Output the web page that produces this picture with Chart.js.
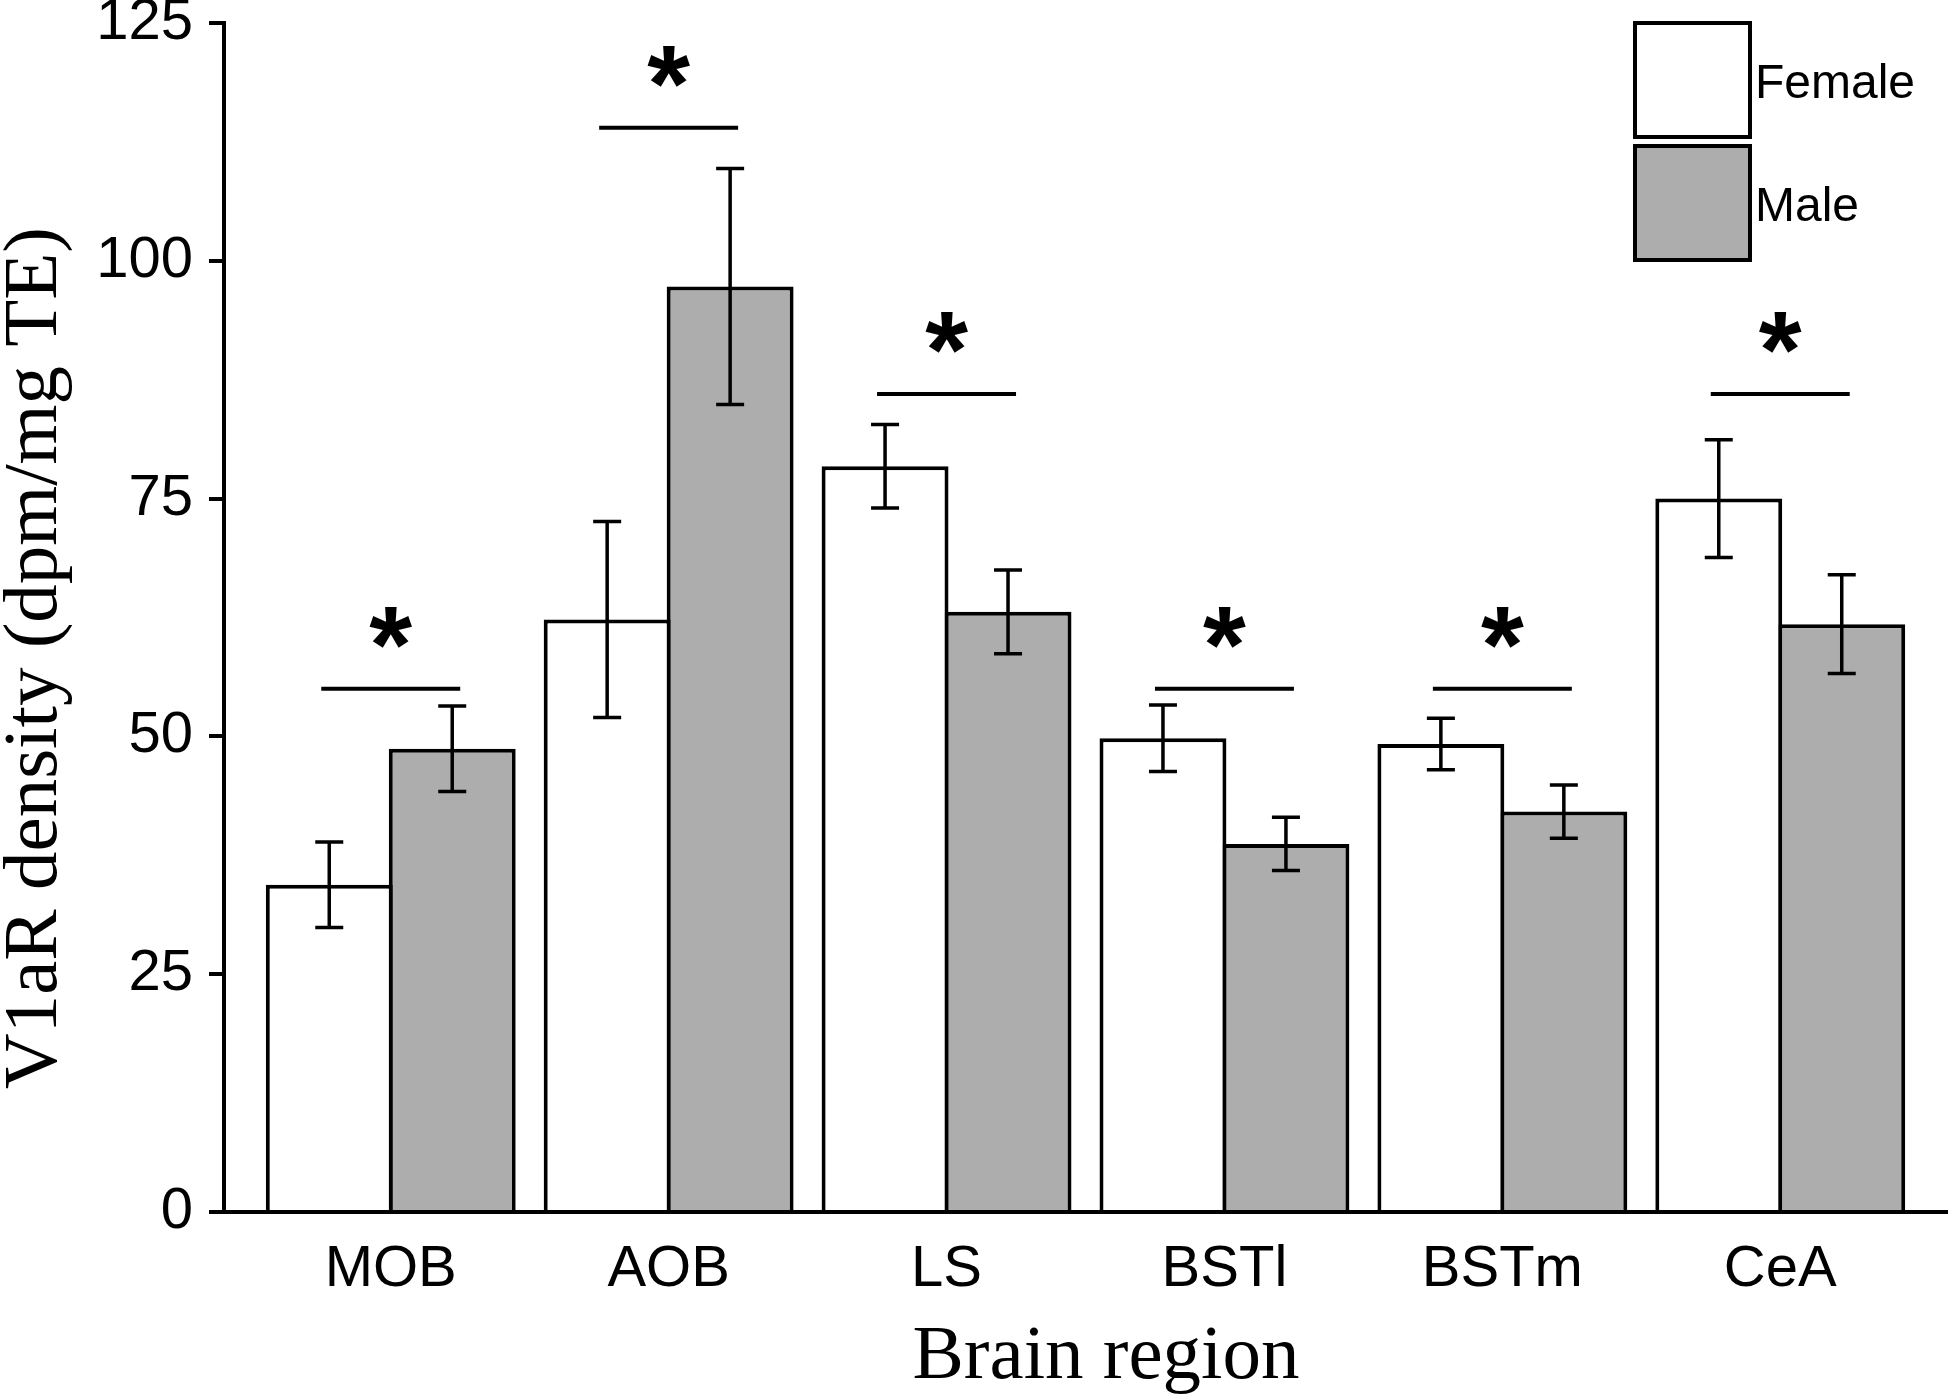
<!DOCTYPE html>
<html>
<head>
<meta charset="utf-8">
<script src="https://cdn.jsdelivr.net/npm/chart.js@4.4.0/dist/chart.umd.min.js"></script>
<style>
  html, body { margin: 0; padding: 0; background: #fff; }
</style>
</head>
<body>
<canvas id="myChart" width="1950" height="1398"></canvas>
<script>
// brain regions on the x axis
const regions = ['MOB', 'AOB', 'LS', 'BSTl', 'BSTm', 'CeA'];
// V1aR density, mean and error (dpm/mg TE)
const femaleMean = [34.4, 62.3, 78.4, 49.8, 49.2, 75.0];
const femaleErr = [4.5, 10.3, 4.4, 3.5, 2.7, 6.2];
const maleMean = [48.7, 97.3, 63.1, 38.7, 42.1, 61.8];
const maleErr = [4.5, 12.4, 4.4, 2.8, 2.8, 5.2];
// height of the significance line over each pair
const sigLevel = [55, 114, 86, 55, 55, 86];
const yTicks = [0, 25, 50, 75, 100, 125];

const sans = 'Liberation Sans';
const serif = 'Liberation Serif';

const marks = {
    id: 'marks',
    afterDatasetsDraw(chart) {
        const ctx = chart.ctx, xs = chart.scales.x, ys = chart.scales.y;
        ctx.save();
        ctx.strokeStyle = '#000';
        ctx.lineWidth = 3.5;
        [[femaleMean, femaleErr], [maleMean, maleErr]].forEach(([mean, err], d) => {
            chart.getDatasetMeta(d).data.forEach((bar, i) => {
                const hi = ys.getPixelForValue(mean[i] + err[i]);
                const lo = ys.getPixelForValue(mean[i] - err[i]);
                ctx.beginPath();
                ctx.moveTo(bar.x, hi); ctx.lineTo(bar.x, lo);
                ctx.moveTo(bar.x - 14, hi); ctx.lineTo(bar.x + 14, hi);
                ctx.moveTo(bar.x - 14, lo); ctx.lineTo(bar.x + 14, lo);
                ctx.stroke();
            });
        });
        // significance lines and stars
        const step = xs.getPixelForValue(2) - xs.getPixelForValue(1);
        ctx.lineWidth = 4;
        ctx.fillStyle = '#000';
        ctx.font = 'bold 110px "' + sans + '"';
        ctx.textAlign = 'center';
        ctx.textBaseline = 'alphabetic';
        const m = ctx.measureText('*');
        const inkMid = (m.actualBoundingBoxAscent - m.actualBoundingBoxDescent) / 2;
        sigLevel.forEach((v, i) => {
            const cx = xs.getPixelForValue(i + 1);
            const y = ys.getPixelForValue(v);
            ctx.beginPath();
            ctx.moveTo(cx - step * 0.25, y);
            ctx.lineTo(cx + step * 0.25, y);
            ctx.stroke();
            ctx.fillText('*', cx, y - 61 + inkMid);
        });
        ctx.restore();
    },
    afterDraw(chart) {
        const ctx = chart.ctx;
        ctx.save();
        // legend: two stacked boxes
        chart.data.datasets.forEach((ds, d) => {
            const top = d === 0 ? 21 : 144;
            ctx.fillStyle = ds.backgroundColor;
            ctx.fillRect(1633, top, 119, 118);
            ctx.strokeStyle = '#000';
            ctx.lineWidth = 4;
            ctx.strokeRect(1635, top + 2, 115, 114);
            ctx.fillStyle = '#000';
            ctx.font = '48px "' + sans + '"';
            ctx.textAlign = 'left';
            ctx.textBaseline = 'alphabetic';
            ctx.fillText(ds.label, 1755, d === 0 ? 98 : 221);
        });
        // axis titles
        ctx.font = '77px "' + serif + '"';
        ctx.textAlign = 'center';
        ctx.fillText('Brain region', 1106, 1378);
        ctx.translate(56, 658);
        ctx.rotate(-Math.PI / 2);
        ctx.fillText('V1aR density (dpm/mg TE)', 0, 0);
        ctx.restore();
    }
};

const ctx = document.getElementById('myChart').getContext('2d');
const myChart = new Chart(ctx, {
    type: 'bar',
    data: {
        datasets: [{
            label: 'Female',
            data: femaleMean.map((v, i) => ({ x: i + 1, y: v })),
            backgroundColor: '#ffffff',
            borderColor: '#000000',
            borderWidth: 4,
        }, {
            label: 'Male',
            data: maleMean.map((v, i) => ({ x: i + 1, y: v })),
            backgroundColor: '#adadad',
            borderColor: '#000000',
            borderWidth: 4,
        }]
    },
    options: {
        responsive: false,
        animation: false,
        events: [],
        // bars overlap by one border width so the shared edge is a single line
        barPercentage: 1.032,
        categoryPercentage: 0.885,
        layout: { padding: { top: 23, right: 3, left: 0, bottom: 0 } },
        plugins: {
            legend: { display: false },
            tooltip: { enabled: false },
        },
        scales: {
            x: {
                type: 'linear',
                offset: false,
                min: 0.4,
                max: 6.6,
                afterBuildTicks: (s) => { s.ticks = regions.map((r, i) => ({ value: i + 1 })); },
                ticks: {
                    callback: (v) => regions[v - 1],
                    autoSkip: false,
                    maxRotation: 0,
                    padding: 15,
                    color: '#000',
                    font: { family: sans, size: 58 },
                },
                grid: { display: false },
                border: { display: true, color: '#000', width: 4 },
                afterFit: (s) => { s.height = 186; s.paddingLeft = 0; s.paddingRight = 0; },
            },
            y: {
                min: 0,
                max: 125,
                afterBuildTicks: (s) => { s.ticks = yTicks.map(v => ({ value: v })); },
                ticks: {
                    padding: 16,
                    color: '#000',
                    font: { family: sans, size: 58 },
                },
                grid: {
                    display: true,
                    drawOnChartArea: false,
                    drawTicks: true,
                    tickLength: 15,
                    color: '#000',
                    lineWidth: 4,
                },
                border: { display: true, color: '#000', width: 4 },
                afterFit: (s) => { s.width = 224; s.paddingTop = 0; s.paddingBottom = 0; },
            }
        }
    },
    plugins: [marks]
});
</script>
</body>
</html>
